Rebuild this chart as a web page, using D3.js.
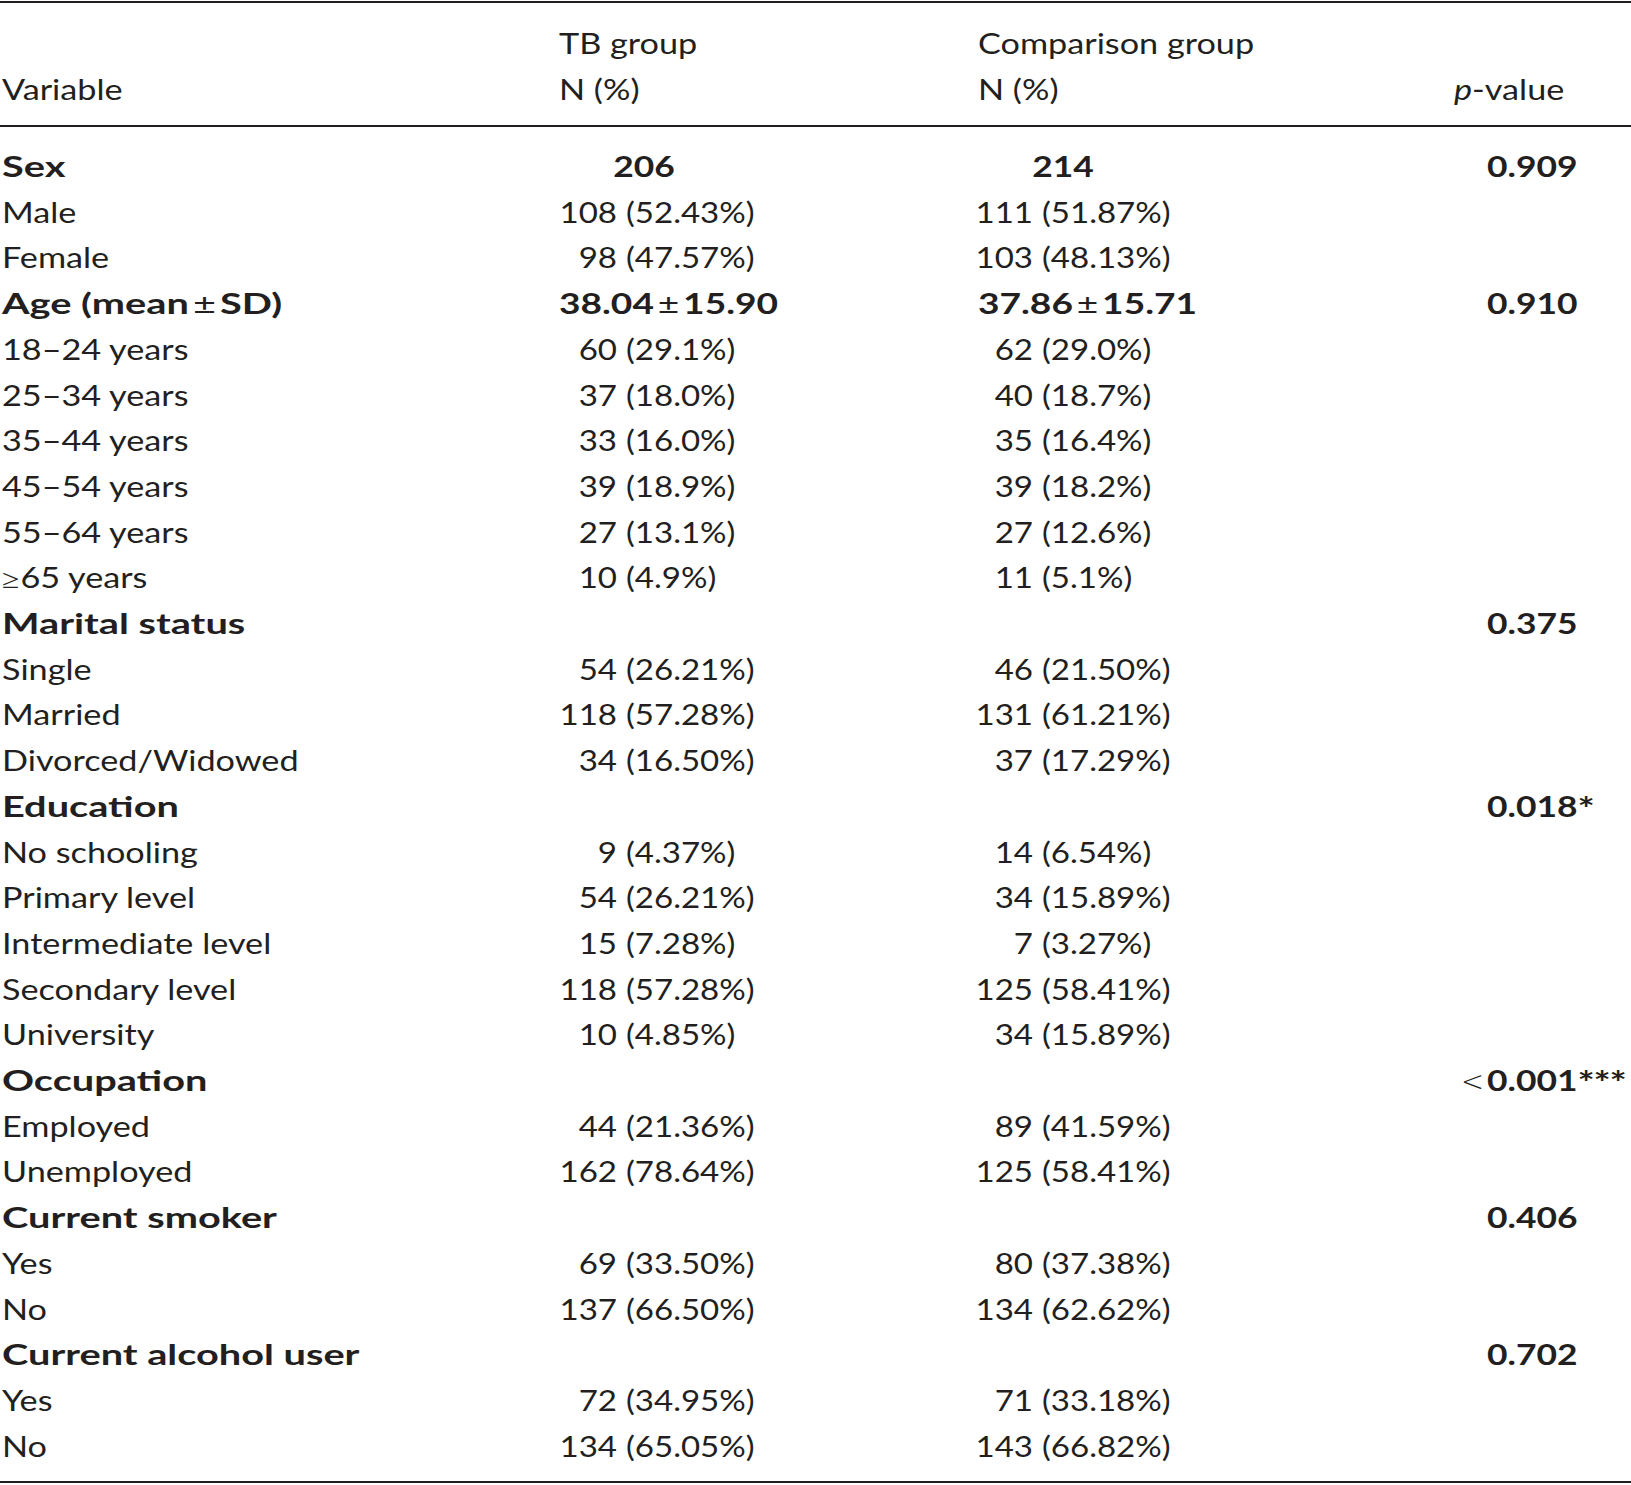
<!DOCTYPE html>
<html><head><meta charset="utf-8">
<script src="https://cdn.jsdelivr.net/npm/d3@7/dist/d3.min.js"></script>
<style>body{margin:0;background:#fff}svg{display:block}</style>
</head><body>
<svg id="t" width="1631" height="1485"></svg>
<script>
// ---- data ----
const variableLabels = ["Sex","Male","Female","Age (mean ± SD)","18–24 years","25–34 years","35–44 years","45–54 years","55–64 years","≥65 years","Marital status","Single","Married","Divorced/Widowed","Education","No schooling","Primary level","Intermediate level","Secondary level","University","Occupation","Employed","Unemployed","Current smoker","Yes","No","Current alcohol user","Yes","No"];
const isGroupRow = [1,0,0,1,0,0,0,0,0,0,1,0,0,0,1,0,0,0,0,0,1,0,0,1,0,0,1,0,0];
const tbCounts = ["206","108","98","38.04 ± 15.90","60","37","33","39","27","10","","54","118","34","","9","54","15","118","10","","44","162","","69","137","","72","134"];
const tbPercents = ["","52.43%","47.57%","","29.1%","18.0%","16.0%","18.9%","13.1%","4.9%","","26.21%","57.28%","16.50%","","4.37%","26.21%","7.28%","57.28%","4.85%","","21.36%","78.64%","","33.50%","66.50%","","34.95%","65.05%"];
const compCounts = ["214","111","103","37.86 ± 15.71","62","40","35","39","27","11","","46","131","37","","14","34","7","125","34","","89","125","","80","134","","71","143"];
const compPercents = ["","51.87%","48.13%","","29.0%","18.7%","16.4%","18.2%","12.6%","5.1%","","21.50%","61.21%","17.29%","","6.54%","15.89%","3.27%","58.41%","15.89%","","41.59%","58.41%","","37.38%","62.62%","","33.18%","66.82%"];
const pValues = ["0.909","","","0.910","","","","","","","0.375","","","","0.018*","","","","","","<0.001***","","","0.406","","","0.702","",""];
const headerLine1 = ["", "TB group", "Comparison group", ""];
const headerLine2 = ["Variable", "N (%)", "N (%)", "p-value"];

// ---- layout ----
const W = 1631, H = 1485;
const FONT = "Lato, 'Open Sans', sans-serif";
const FS = 29;
const ink = "#231f20";
const SX_TEXT = 1.18, SX_NUM = 1.14, SX_BOLD = 1.37, SX_BOLDNUM = 1.22;
const svg = d3.select("#t").attr("font-family", FONT).attr("font-size", FS).attr("fill", ink);

const rows = d3.range(variableLabels.length);
const y = d3.scalePoint().domain(rows).range([177, 177 + 28 * 45.7]);
const col = d3.scaleOrdinal().domain(["var","tb","comp","p"]).range([2, 559, 978, 1454]);
const tbSplit = 617, compSplit = 1033, pStart = 1487;
const tbTotalX = 644, compTotalX = 1063;

function put(x, yy, anchor, sx) {
  return svg.append("text")
    .attr("transform", `translate(${x},${yy}) scale(${sx},1)`)
    .attr("text-anchor", anchor);
}

// rules
const rules = [2, 126, 1482];
svg.selectAll("line.rule").data(rules).join("line")
  .attr("x1", 0).attr("x2", W).attr("y1", d => d).attr("y2", d => d)
  .attr("stroke", ink).attr("stroke-width", 2.2);

// header
const hcols = ["var","tb","comp","p"];
headerLine1.forEach((d,i) => { if (d) put(col(hcols[i]), 54, "start", SX_TEXT).text(d); });
headerLine2.forEach((d,i) => {
  const t = put(col(hcols[i]), 100, "start", SX_TEXT);
  if (d === "p-value") {
    t.append("tspan").attr("font-style","italic").text("p");
    t.append("tspan").text("-value");
  } else t.text(d);
});

// variable column
rows.forEach(i => {
  const s = variableLabels[i];
  const bold = isGroupRow[i];
  const t = put(col("var"), y(i), "start", bold ? SX_BOLD : SX_TEXT)
    .attr("font-weight", bold ? "bold" : "normal");
  if (s.startsWith("≥")) {
    t.append("tspan").attr("font-family","'DejaVu Sans'").attr("font-weight","200").attr("font-size",FS*0.92).text("≥");
    t.append("tspan").attr("dx",1).text(s.slice(1));
  } else if (s.includes("±")) {
    const [a,b] = s.split("±");
    t.append("tspan").text(a.trim());
    t.append("tspan").attr("font-weight","normal").attr("dx",3).text("±");
    t.append("tspan").attr("dx",3).text(b.trim());
  } else t.text(s);
});

// group columns
function drawGroup(counts, pcts, xLeft, split, totalX) {
  rows.forEach(i => {
    const c = counts[i];
    if (!c) return;
    if (i === 0) {
      put(totalX, y(i), "middle", SX_BOLDNUM).attr("font-weight","bold").text(c);
    } else if (c.includes("±")) {
      const [a,b] = c.split("±");
      const t = put(xLeft, y(i), "start", SX_BOLDNUM + 0.06).attr("font-weight","bold");
      t.append("tspan").text(a.trim());
      t.append("tspan").attr("font-weight","normal").attr("dx", 3).text("±");
      t.append("tspan").attr("dx", 3).text(b.trim());
    } else {
      put(split, y(i), "end", SX_NUM).text(c);
      put(split + 9, y(i), "start", SX_NUM).text("(" + pcts[i] + ")");
    }
  });
}
drawGroup(tbCounts, tbPercents, col("tb"), tbSplit, tbTotalX);
drawGroup(compCounts, compPercents, col("comp"), compSplit, compTotalX);

// p values
rows.forEach(i => {
  const p = pValues[i];
  if (!p) return;
  let s = p;
  if (s.startsWith("<")) {
    put(pStart - 3, y(i), "end", 1.0).attr("font-family","'DejaVu Sans'").attr("font-weight","200")
      .attr("font-size", FS*0.95).text("<");
    s = s.slice(1);
  }
  const m = s.match(/^([0-9.]+)(\**)$/);
  const t = put(pStart, y(i), "start", SX_BOLDNUM).attr("font-weight","bold");
  t.append("tspan").text(m[1]);
  if (m[2]) t.append("tspan").attr("font-size", FS*1.15).attr("letter-spacing", -1).attr("dy", 4).text(m[2]);
});
</script>
</body></html>
